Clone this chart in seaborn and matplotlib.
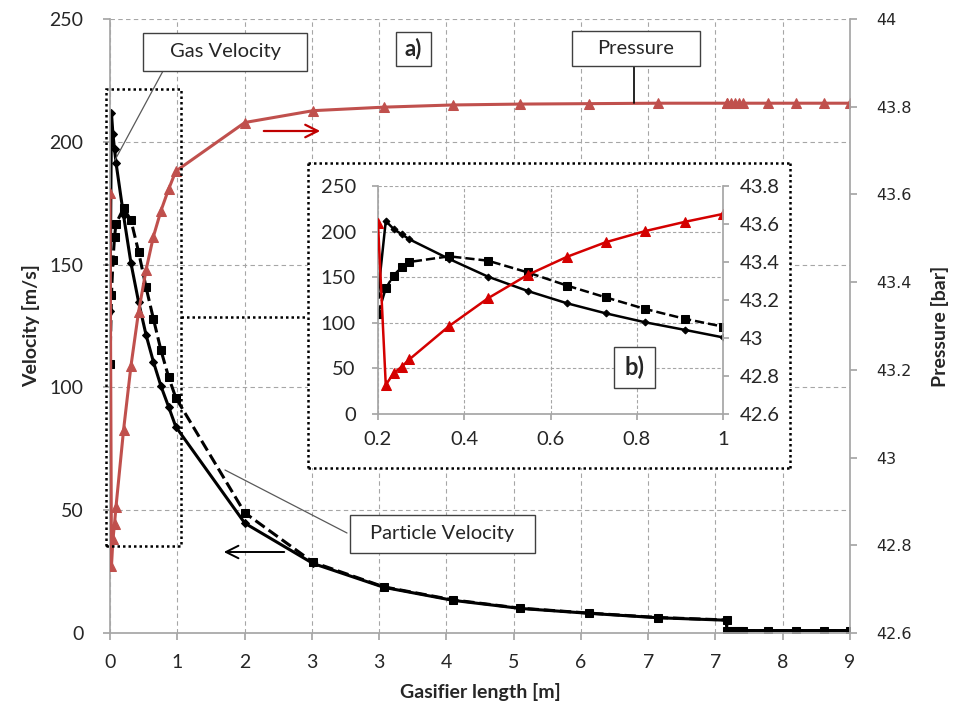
import matplotlib
matplotlib.use('Agg')
import matplotlib.pyplot as plt
from matplotlib.patches import Rectangle, FancyArrowPatch
from matplotlib.lines import Line2D
from matplotlib.ticker import FuncFormatter
import seaborn as sns
import numpy as np
import pandas as pd

# ---- data ----
# gasifier length [m]; the first 13 points are the inlet zone shown in the inset
x_len = [0.0, 0.018, 0.036, 0.055, 0.073, 0.165, 0.255, 0.347, 0.439, 0.528, 0.62, 0.713, 0.8,
         1.64, 2.47, 3.33, 4.17, 4.99, 5.83, 6.67, 7.5, 7.5, 7.55, 7.6, 7.65, 7.7, 8.0, 8.34, 8.68, 9.0]
gas_vel = [131.0, 211.6, 203.0, 197.0, 191.5, 170.0, 150.6, 134.9, 121.3, 110.4, 100.5, 92.1, 84.0,
           44.7, 28.3, 18.6, 13.3, 10.0, 8.0, 6.2, 5.2, 1.0, 1.0, 1.0, 1.0, 1.0, 1.0, 1.0, 1.0, 1.0]
part_vel = [109.6, 137.8, 151.7, 161.2, 166.7, 172.9, 168.1, 155.3, 140.7, 127.9, 115.1, 104.2, 95.8,
            48.9, 28.8, 18.8, 13.5, 10.1, 8.1, 6.3, 5.3, 1.0, 1.0, 1.0, 1.0, 1.0, 1.0, 1.0, 1.0, 1.0]
pressure = [43.603, 42.753, 42.814, 42.849, 42.888, 43.063, 43.209, 43.332, 43.428, 43.504, 43.563, 43.612, 43.653,
            43.764, 43.791, 43.799, 43.804, 43.806, 43.807, 43.808, 43.808, 43.808, 43.808, 43.808, 43.808,
            43.808, 43.808, 43.808, 43.808, 43.808]

x_ticks = np.linspace(0, 9, 12)
x_tick_labels = ['0', '1', '2', '3', '3', '4', '5', '6', '7', '7', '8', '9']
vel_ticks = [0, 50, 100, 150, 200, 250]
p_ticks = [42.6, 42.8, 43.0, 43.2, 43.4, 43.6, 43.8, 44.0]
inset_x_ticks = [0.2, 0.4, 0.6, 0.8, 1.0]
inset_p_ticks = [42.6, 42.8, 43.0, 43.2, 43.4, 43.6, 43.8]
INSET_N = 13        # points belonging to the inset
INSET_SHIFT = 0.2   # inset axis starts at 0.2

df = pd.DataFrame({'length': x_len, 'gas': gas_vel, 'particle': part_vel, 'pressure': pressure})
inset_df = df.iloc[:INSET_N].copy()
inset_df['length'] = inset_df['length'] + INSET_SHIFT

# ---- style ----
sns.set_theme(style='white')
plt.rcParams['font.family'] = ['Lato', 'DejaVu Sans']

W, H = 957, 711
GRID = '#A6A6A6'
RED_MAIN = '#C0504D'
RED_INSET = '#D40000'
fmt_g = FuncFormatter(lambda v, p: '{:g}'.format(round(v, 2)))


def fx(x):
    return x / W


def fy(y):
    return 1 - y / H


def rect(x0, y0, x1, y1):
    return [fx(x0), fy(y1), (x1 - x0) / W, (y1 - y0) / H]


fig = plt.figure(figsize=(W / 100, H / 100), dpi=100)

# ---- main chart ----
ax = fig.add_axes(rect(110, 19, 850, 633))
ax2 = ax.twinx()

sns.lineplot(data=df, x='length', y='gas', ax=ax, estimator=None, sort=False,
             color='black', lw=2.2, marker='D', markersize=4.5, mec='black', mfc='black')
sns.lineplot(data=df, x='length', y='particle', ax=ax, estimator=None, sort=False,
             color='black', lw=2.2, ls='--', marker='s', markersize=5.5, mec='black', mfc='black')
sns.lineplot(data=df, x='length', y='pressure', ax=ax2, estimator=None, sort=False,
             color=RED_MAIN, lw=2.2, marker='^', markersize=7.5, mec=RED_MAIN, mfc=RED_MAIN)

ax.set_xlim(0, 9)
ax.set_ylim(0, 250)
ax2.set_ylim(42.6, 44.0)
ax.set_xticks(x_ticks)
ax.set_xticklabels(x_tick_labels)
ax.set_yticks(vel_ticks)
ax2.set_yticks(p_ticks)
ax2.yaxis.set_major_formatter(fmt_g)

ax.grid(True, ls=(0, (4, 3)), color=GRID, lw=0.8)
ax2.grid(False)
for s in ['top', 'right']:
    ax.spines[s].set_visible(False)
for s in ['top', 'left', 'bottom']:
    ax2.spines[s].set_visible(False)
for s in ['left', 'bottom']:
    ax.spines[s].set_color(GRID)
ax2.spines['right'].set_color(GRID)

ax.tick_params(axis='x', direction='out', length=5, color=GRID, labelsize=14, pad=10, bottom=True)
ax.tick_params(axis='y', direction='out', length=5, color=GRID, labelsize=14, pad=14, left=True)
ax2.tick_params(axis='y', direction='out', length=5, color=GRID, labelsize=11.5, pad=14,
                labelfontfamily='DejaVu Sans', right=True)

ax.set_xlabel('Gasifier length [m]', fontsize=14, fontweight='bold', labelpad=9)
ax.set_ylabel('Velocity [m/s]', fontsize=14, fontweight='bold', labelpad=7)
ax2.set_ylabel('Pressure [bar]', fontsize=14, fontweight='bold', labelpad=14)

# ---- inset (b) ----
dot = (0, (1, 1.2))
box_ax = fig.add_axes(rect(308, 163, 790, 468), zorder=5)
box_ax.set_xticks([])
box_ax.set_yticks([])
box_ax.set_facecolor('white')
for s in box_ax.spines.values():
    s.set_linestyle(dot)
    s.set_linewidth(1.8)
    s.set_color('black')
    s.set_capstyle('butt')

iax = fig.add_axes(rect(378, 186, 723, 414), zorder=6)
iax.set_facecolor('white')
iax2 = iax.twinx()
iax2.set_zorder(7)
iax2.patch.set_visible(False)

sns.lineplot(data=inset_df, x='length', y='gas', ax=iax, estimator=None, sort=False,
             color='black', lw=1.8, marker='D', markersize=3.5, mec='black', mfc='black')
sns.lineplot(data=inset_df, x='length', y='particle', ax=iax, estimator=None, sort=False,
             color='black', lw=1.8, ls='--', marker='s', markersize=5.5, mec='black', mfc='black')
sns.lineplot(data=inset_df, x='length', y='pressure', ax=iax2, estimator=None, sort=False,
             color=RED_INSET, lw=1.8, marker='^', markersize=6.5, mec=RED_INSET, mfc=RED_INSET)

iax.set_xlim(0.2, 1.0)
iax.set_ylim(0, 250)
iax2.set_ylim(42.6, 43.8)
iax.set_xticks(inset_x_ticks)
iax.xaxis.set_major_formatter(fmt_g)
iax.set_yticks(vel_ticks)
iax2.set_yticks(inset_p_ticks)
iax2.yaxis.set_major_formatter(fmt_g)
iax.grid(True, ls=(0, (3, 2)), color=GRID, lw=0.8)
iax2.grid(False)
iax.spines['top'].set_visible(False)
iax.spines['right'].set_visible(False)
for s in ['top', 'left', 'bottom']:
    iax2.spines[s].set_visible(False)
for s in ['left', 'bottom']:
    iax.spines[s].set_color(GRID)
iax2.spines['right'].set_color(GRID)
iax.tick_params(axis='x', direction='out', length=4, color=GRID, labelsize=14.5, pad=8, bottom=True)
iax.tick_params(axis='y', direction='out', length=4, color=GRID, labelsize=14.5, pad=12, left=True)
iax2.tick_params(axis='y', direction='out', length=4, color=GRID, labelsize=14.5, pad=8, right=True)
iax.set_xlabel('')
iax.set_ylabel('')
iax2.set_ylabel('')

# ---- annotations ----
fig.add_artist(Rectangle((fx(106), fy(546)), 75 / W, 457 / H, transform=fig.transFigure,
                         fill=False, ls=dot, lw=1.8, ec='black', zorder=3))
fig.add_artist(Line2D([fx(181), fx(308)], [fy(317), fy(317)], transform=fig.transFigure,
                      ls=dot, lw=1.8, color='black', zorder=3))


def label_box(x0, y0, x1, y1, text, bold=False, size=14, z=20):
    fig.add_artist(Rectangle((fx(x0), fy(y1)), (x1 - x0) / W, (y1 - y0) / H,
                             transform=fig.transFigure, fc='white', ec='#404040', lw=1.0, zorder=z))
    fig.text(fx((x0 + x1) / 2), fy((y0 + y1) / 2), text, ha='center', va='center',
             fontsize=size, fontweight='bold' if bold else 'normal', zorder=z + 1)


def leader(p0, p1, color='#595959', lw=0.9):
    fig.add_artist(Line2D([fx(p0[0]), fx(p1[0])], [fy(p0[1]), fy(p1[1])],
                          transform=fig.transFigure, color=color, lw=lw, zorder=15))


leader((163, 71), (115, 160))
leader((634, 66), (634, 103), color='black', lw=1.2)
leader((347, 533), (225, 470))

label_box(143, 33, 307, 71, 'Gas Velocity', size=14.5)
label_box(572, 31, 700, 66, 'Pressure', size=14.5)
label_box(350, 515, 535, 553, 'Particle Velocity', size=14.5)
label_box(396, 32, 431, 66, 'a)', bold=True, size=16)
label_box(614, 347, 655, 388, 'b)', bold=True, size=17, z=30)

fig.add_artist(FancyArrowPatch((fx(261), fy(131)), (fx(323), fy(131)), transform=fig.transFigure,
                               arrowstyle='->,head_length=6,head_width=3', color='#C00000', lw=1.6,
                               mutation_scale=1.5, zorder=15))
fig.add_artist(FancyArrowPatch((fx(287), fy(552)), (fx(221), fy(552)), transform=fig.transFigure,
                               arrowstyle='->,head_length=6,head_width=3', color='black', lw=1.4,
                               mutation_scale=1.5, zorder=15))

fig.savefig('out.png', dpi=100)
